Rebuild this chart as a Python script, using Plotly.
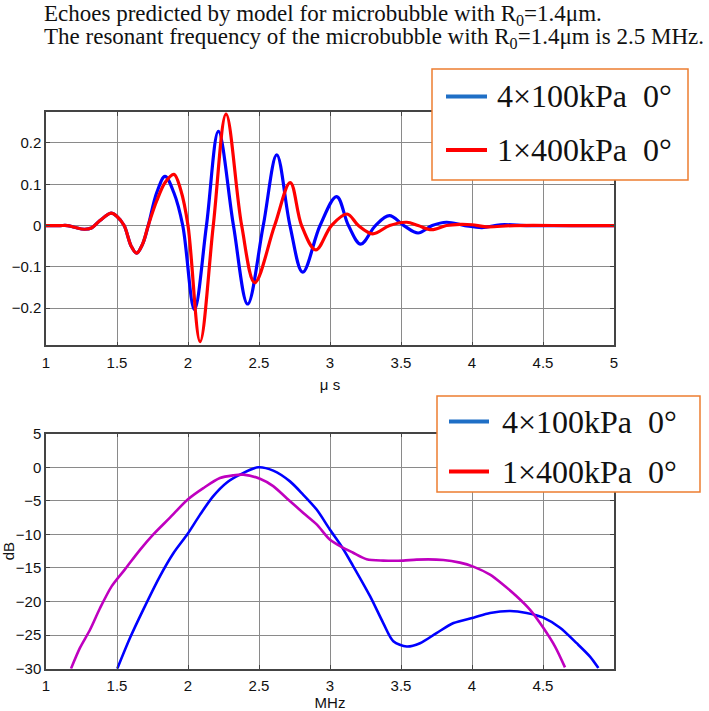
import plotly.graph_objects as go

W, H = 709, 711
OFF = 0  # page body margin removed below

# ---------------- data: time-domain echoes (μs, amplitude) ----------------
t_blue = [1.0, 1.1, 1.15, 1.2, 1.27, 1.32, 1.38, 1.458, 1.5, 1.55, 1.6, 1.638, 1.68, 1.72,
          1.78, 1.838, 1.9, 1.963, 2.045, 2.13, 2.214, 2.32, 2.42, 2.53, 2.625, 2.718,
          2.808, 2.93, 3.047, 3.13, 3.216, 3.32, 3.418, 3.52, 3.62, 3.72, 3.82, 3.95,
          4.07, 4.2, 4.4, 4.7, 5.0]
v_blue = [0.0, 0.0, 0.0, -0.004, -0.009, -0.006, 0.012, 0.030, 0.022, 0.0, -0.05, -0.067,
          -0.045, 0.0, 0.08, 0.119, 0.08, 0.0, -0.204, 0.0, 0.228, 0.0, -0.19, 0.0, 0.171,
          0.0, -0.113, 0.0, 0.070, 0.0, -0.045, 0.0, 0.024, 0.0, -0.018, 0.0, 0.008, 0.0,
          -0.005, 0.002, 0.0, 0.0, 0.0]

t_red = [1.0, 1.1, 1.15, 1.2, 1.27, 1.32, 1.38, 1.458, 1.5, 1.55, 1.6, 1.638, 1.68, 1.72,
         1.78, 1.84, 1.901, 1.95, 2.0, 2.085, 2.178, 2.268, 2.378, 2.47, 2.61, 2.72, 2.8,
         2.9, 3.01, 3.12, 3.2, 3.30, 3.42, 3.54, 3.62, 3.716, 3.82, 3.915, 4.0, 4.1, 4.3,
         4.7, 5.0]
v_red = [0.0, 0.0, 0.0, -0.004, -0.009, -0.006, 0.012, 0.030, 0.022, 0.0, -0.05, -0.067,
         -0.045, 0.0, 0.06, 0.105, 0.124, 0.085, 0.0, -0.281, 0.0, 0.270, 0.0, -0.138, 0.0,
         0.104, 0.0, -0.059, 0.0, 0.028, 0.0, -0.020, 0.0, 0.008, 0.0, -0.010, 0.0, 0.003,
         0.002, -0.003, 0.0, 0.0, 0.0]

# ---------------- data: spectra (MHz, dB) ----------------
f_blue = [1.502, 1.592, 1.685, 1.803, 1.897, 1.998, 2.085, 2.178, 2.272, 2.366, 2.495,
          2.6, 2.718, 2.812, 2.906, 3.0, 3.082, 3.16, 3.282, 3.375, 3.446, 3.54, 3.634,
          3.75, 3.87, 4.01, 4.127, 4.268, 4.385, 4.502, 4.62, 4.737, 4.831, 4.89]
db_blue = [-30.0, -25.4, -21.2, -16.2, -12.8, -9.9, -7.05, -4.3, -2.3, -1.1, 0.0, -0.5,
           -2.1, -4.1, -6.3, -9.3, -11.8, -14.6, -19.2, -23.2, -25.9, -26.7, -26.2, -24.7,
           -23.2, -22.4, -21.7, -21.4, -21.7, -22.4, -23.9, -26.2, -28.2, -29.9]

f_mag = [1.176, 1.239, 1.31, 1.38, 1.463, 1.556, 1.662, 1.756, 1.873, 1.998, 2.108, 2.225,
         2.32, 2.39, 2.507, 2.6, 2.695, 2.812, 2.906, 3.0, 3.094, 3.16, 3.258, 3.375,
         3.516, 3.61, 3.798, 3.915, 4.009, 4.127, 4.22, 4.314, 4.408, 4.502, 4.585, 4.655]
db_mag = [-30.0, -26.9, -24.2, -21.0, -17.7, -15.2, -12.3, -10.0, -7.5, -4.8, -3.1, -1.6,
          -1.2, -1.1, -1.7, -2.8, -4.6, -6.8, -8.5, -10.8, -12.0, -12.7, -13.7, -13.9,
          -13.9, -13.75, -13.8, -14.2, -14.8, -16.0, -17.5, -19.2, -21.2, -23.9, -26.7, -29.8]

top_yticks = [-0.2, -0.1, 0, 0.1, 0.2]
bot_yticks = [5, 0, -5, -10, -15, -20, -25, -30]
top_xticks = [1, 1.5, 2, 2.5, 3, 3.5, 4, 4.5, 5]
bot_xticks = [1, 1.5, 2, 2.5, 3, 3.5, 4, 4.5]

legend_labels = ["4\u00d7100kPa\u00a0\u00a00\u00b0", "1\u00d7400kPa\u00a0\u00a00\u00b0"]
title_lines = ["Echoes predicted by model for microbubble with R<sub>0</sub>=1.4\u03bcm.",
               "The resonant frequency of the microbubble with R<sub>0</sub>=1.4\u03bcm is 2.5 MHz."]

# ---------------- figure ----------------
fig = go.Figure()
fig.add_trace(go.Scatter(x=t_blue, y=v_blue, mode="lines", line=dict(color="#0000ff", width=3.2, shape="spline", smoothing=1.0),
                         xaxis="x", yaxis="y", showlegend=False, hoverinfo="skip"))
fig.add_trace(go.Scatter(x=t_red, y=v_red, mode="lines", line=dict(color="#ff0000", width=3.2, shape="spline", smoothing=1.0),
                         xaxis="x", yaxis="y", showlegend=False, hoverinfo="skip"))
fig.add_trace(go.Scatter(x=f_blue, y=db_blue, mode="lines", line=dict(color="#0000ff", width=2.6, shape="spline", smoothing=0.8),
                         xaxis="x2", yaxis="y2", showlegend=False, hoverinfo="skip"))
fig.add_trace(go.Scatter(x=f_mag, y=db_mag, mode="lines", line=dict(color="#bf00bf", width=2.6, shape="spline", smoothing=0.8),
                         xaxis="x2", yaxis="y2", showlegend=False, hoverinfo="skip"))

def px(x):
    return (x - OFF) / W

def py(y):
    return 1 - (y - OFF) / H

xdom = [px(46), px(614)]
sans = "Liberation Sans, Arial, sans-serif"
serif = "Liberation Serif, Times New Roman, serif"
tick_font = dict(family=sans, size=15, color="#111")
common = dict(showline=True, mirror="ticks", linecolor="#444", linewidth=1.5,
              showgrid=True, gridcolor="#8a8a8a", gridwidth=1, zeroline=False,
              ticks="inside", ticklen=4, tickcolor="#444", tickfont=tick_font)

fig.update_layout(
    width=W, height=H,
    margin=dict(l=0, r=0, t=0, b=0),
    paper_bgcolor="white", plot_bgcolor="white",
    xaxis=dict(domain=xdom, range=[1, 5], tickvals=top_xticks, anchor="y", ticklabelstandoff=3,
               title=dict(text="\u03bc s", font=dict(family=sans, size=15, color="#111"), standoff=9),
               automargin=False, **common),
    yaxis=dict(domain=[py(345.3), py(112)], range=[-0.29, 0.275], tickvals=top_yticks, anchor="x",
               automargin=False, **common),
    xaxis2=dict(domain=xdom, range=[1, 5], tickvals=bot_xticks, anchor="y2", ticklabelstandoff=3,
                title=dict(text="MHz", font=dict(family=sans, size=15, color="#111"), standoff=5),
                automargin=False, **common),
    yaxis2=dict(domain=[py(668.7), py(433.7)], range=[-30, 5], tickvals=bot_yticks, anchor="x2",
                title=dict(text="dB", font=dict(family=sans, size=15, color="#111"), standoff=4),
                automargin=False, **common),
)

# title lines
for i, line in enumerate(title_lines):
    fig.add_annotation(text=line, xref="paper", yref="paper", x=px(42), y=py(14.5 + 23.5 * i),
                       xanchor="left", yanchor="middle", showarrow=False,
                       font=dict(family=serif, size=23, color="#111"))

# legend boxes (drawn as shapes + text)
legends = [
    dict(box=(432, 69, 688, 180), rows=[96.5, 150], line_x=(446, 487), text_x=495,
         colors=["#1f6fc6", "#ff0000"]),
    dict(box=(437, 396, 700, 492), rows=[421.5, 471.5], line_x=(449, 489), text_x=500,
         colors=["#1f6fc6", "#ff0000"]),
]
for lg in legends:
    x0, y0, x1, y1 = lg["box"]
    fig.add_shape(type="rect", xref="paper", yref="paper", x0=px(x0), x1=px(x1), y0=py(y1), y1=py(y0),
                  line=dict(color="#ed7d31", width=1.5), fillcolor="white", layer="above")
    for yy, col, lab in zip(lg["rows"], lg["colors"], legend_labels):
        fig.add_shape(type="line", xref="paper", yref="paper", x0=px(lg["line_x"][0]), x1=px(lg["line_x"][1]),
                      y0=py(yy), y1=py(yy), line=dict(color=col, width=4), layer="above")
        fig.add_annotation(text=lab, xref="paper", yref="paper", x=px(lg["text_x"]), y=py(yy),
                           xanchor="left", yanchor="middle", showarrow=False,
                           font=dict(family=serif, size=32, color="#111"))

fig.write_html("out.html", config={"displayModeBar": False},
               post_script="document.body.style.margin='0px';")
